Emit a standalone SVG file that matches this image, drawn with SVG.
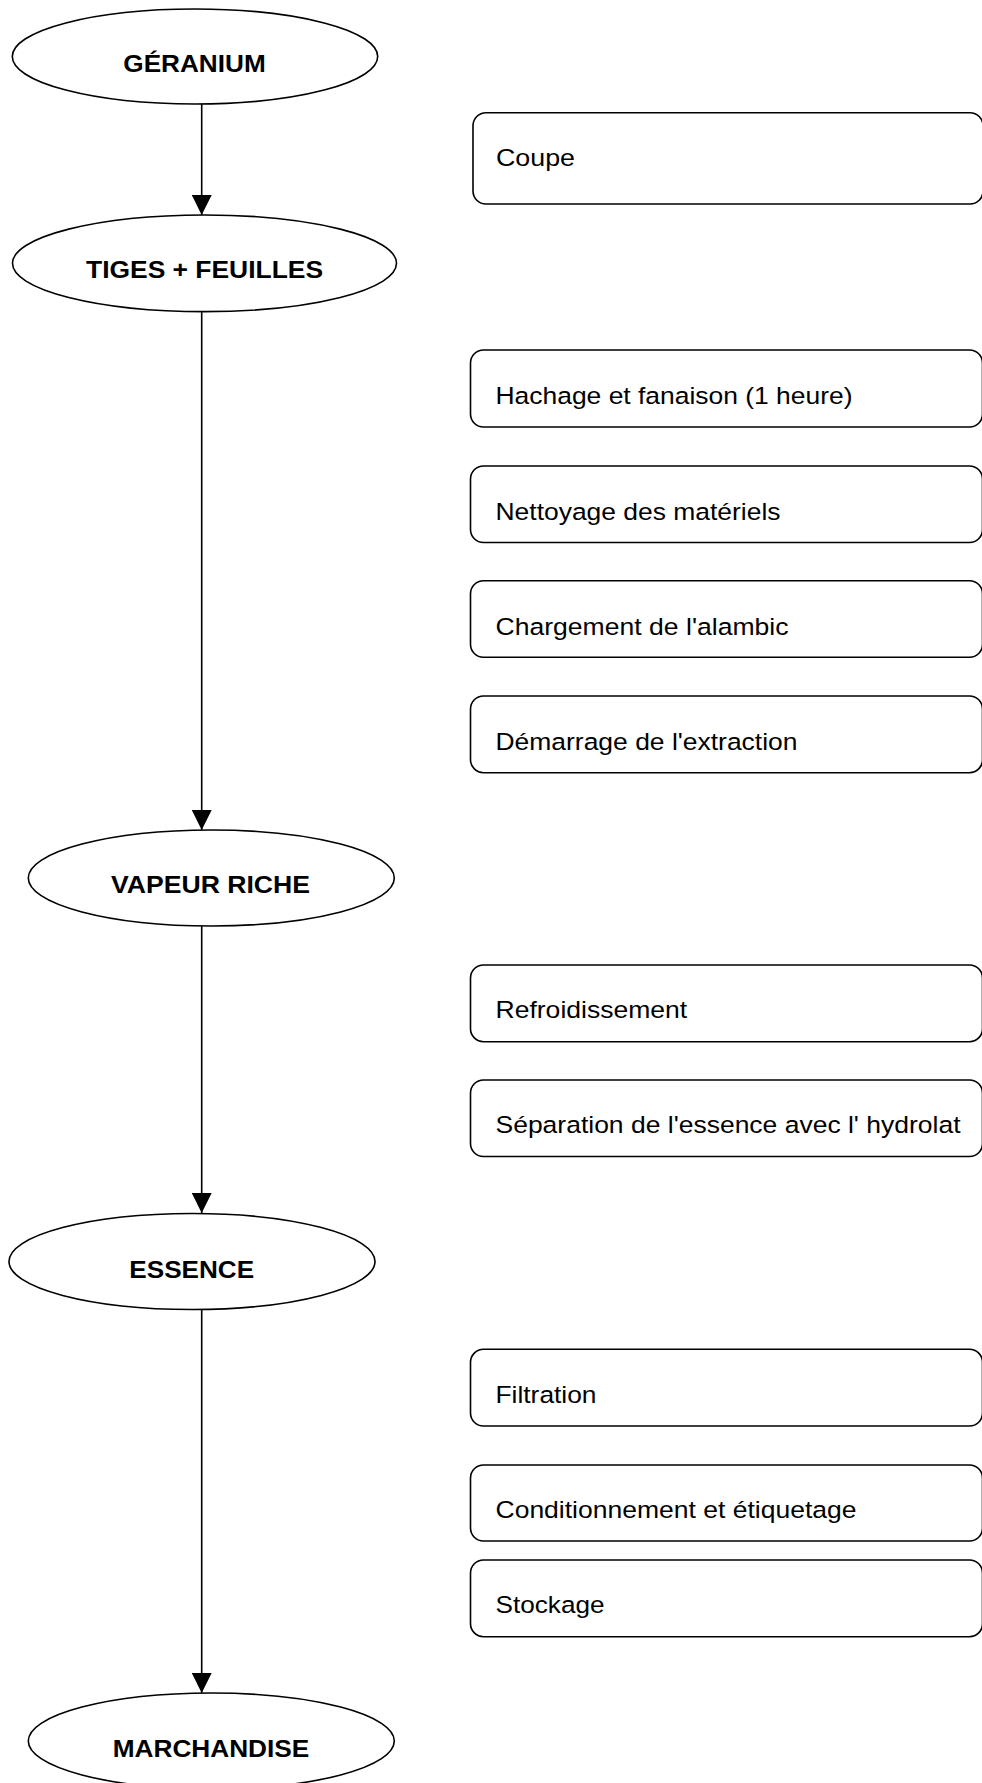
<svg xmlns="http://www.w3.org/2000/svg" width="982" height="1783" viewBox="0 0 982 1783">
<style>
  .ell { fill: #fff; stroke: #000; stroke-width: 1.6; }
  .box { fill: #fff; stroke: #000; stroke-width: 1.6; }
  .lbl { font-family: "Liberation Sans", Arial, sans-serif; font-weight: bold; font-size: 24.5px; fill: #000; text-anchor: middle; }
  .txt { font-family: "Liberation Sans", Arial, sans-serif; font-size: 24.5px; fill: #000; }
  .conn { stroke: #000; stroke-width: 1.6; fill: none; }
</style>
<defs>
  <marker id="arr" viewBox="0 0 20 20" refX="20" refY="10" markerWidth="20" markerHeight="20" markerUnits="userSpaceOnUse" orient="auto">
    <path d="M0,0 L20,10 L0,20 z" fill="#000"/>
  </marker>
</defs>
<rect width="982" height="1783" fill="#fff"/>

<g id="connectors">
  <line class="conn" x1="201.7" y1="104" x2="201.7" y2="215" marker-end="url(#arr)"/>
  <line class="conn" x1="201.7" y1="311.7" x2="201.7" y2="830" marker-end="url(#arr)"/>
  <line class="conn" x1="201.7" y1="926" x2="201.7" y2="1213" marker-end="url(#arr)"/>
  <line class="conn" x1="201.7" y1="1310" x2="201.7" y2="1693" marker-end="url(#arr)"/>
</g>

<g id="n-geranium">
  <ellipse class="ell" cx="195" cy="56.5" rx="182.7" ry="47.5"/>
  <text class="lbl" x="194.5" y="71.7" textLength="142.4" lengthAdjust="spacingAndGlyphs">GÉRANIUM</text>
</g>
<g id="n-tiges">
  <ellipse class="ell" cx="204.5" cy="263.3" rx="192" ry="48.3"/>
  <text class="lbl" x="204.5" y="278.3" textLength="237" lengthAdjust="spacingAndGlyphs">TIGES + FEUILLES</text>
</g>
<g id="n-vapeur">
  <ellipse class="ell" cx="211.3" cy="878" rx="183" ry="48"/>
  <text class="lbl" x="210.5" y="893.3" textLength="199" lengthAdjust="spacingAndGlyphs">VAPEUR RICHE</text>
</g>
<g id="n-essence">
  <ellipse class="ell" cx="192" cy="1261.5" rx="183" ry="48"/>
  <text class="lbl" x="191.7" y="1277.7" textLength="124.7" lengthAdjust="spacingAndGlyphs">ESSENCE</text>
</g>
<g id="n-marchandise">
  <ellipse class="ell" cx="211.3" cy="1741" rx="183" ry="48"/>
  <text class="lbl" x="211" y="1756.7" textLength="196.6" lengthAdjust="spacingAndGlyphs">MARCHANDISE</text>
</g>

<g id="s-coupe">
  <rect class="box" x="473" y="112.7" width="510" height="91.3" rx="13"/>
  <text class="txt" x="496" y="166" textLength="79" lengthAdjust="spacingAndGlyphs">Coupe</text>
</g>
<g id="s-hachage">
  <rect class="box" x="470.5" y="350" width="512" height="77" rx="13"/>
  <text class="txt" x="495.5" y="404.3" textLength="357" lengthAdjust="spacingAndGlyphs">Hachage et fanaison (1 heure)</text>
</g>
<g id="s-nettoyage">
  <rect class="box" x="470.5" y="466" width="512" height="76.5" rx="13"/>
  <text class="txt" x="495.5" y="520" textLength="285" lengthAdjust="spacingAndGlyphs">Nettoyage des matériels</text>
</g>
<g id="s-chargement">
  <rect class="box" x="470.5" y="580.7" width="512" height="76.6" rx="13"/>
  <text class="txt" x="495.5" y="635" textLength="293" lengthAdjust="spacingAndGlyphs">Chargement de l'alambic</text>
</g>
<g id="s-demarrage">
  <rect class="box" x="470.5" y="696" width="512" height="76.7" rx="13"/>
  <text class="txt" x="495.5" y="750" textLength="302" lengthAdjust="spacingAndGlyphs">Démarrage de l'extraction</text>
</g>
<g id="s-refroidissement">
  <rect class="box" x="470.5" y="965" width="512" height="76.7" rx="13"/>
  <text class="txt" x="495.5" y="1018.3" textLength="191.7" lengthAdjust="spacingAndGlyphs">Refroidissement</text>
</g>
<g id="s-separation">
  <rect class="box" x="470.5" y="1080" width="512" height="76.5" rx="13"/>
  <text class="txt" x="495.5" y="1133.3" textLength="465" lengthAdjust="spacingAndGlyphs">Séparation de l'essence avec l' hydrolat</text>
</g>
<g id="s-filtration">
  <rect class="box" x="470.5" y="1349.3" width="512" height="76.7" rx="13"/>
  <text class="txt" x="495.5" y="1402.7" textLength="101" lengthAdjust="spacingAndGlyphs">Filtration</text>
</g>
<g id="s-conditionnement">
  <rect class="box" x="470.5" y="1465" width="512" height="76" rx="13"/>
  <text class="txt" x="495.5" y="1517.7" textLength="361" lengthAdjust="spacingAndGlyphs">Conditionnement et étiquetage</text>
</g>
<g id="s-stockage">
  <rect class="box" x="470.5" y="1560" width="512" height="76.7" rx="13"/>
  <text class="txt" x="495.5" y="1613.3" textLength="109" lengthAdjust="spacingAndGlyphs">Stockage</text>
</g>
</svg>
